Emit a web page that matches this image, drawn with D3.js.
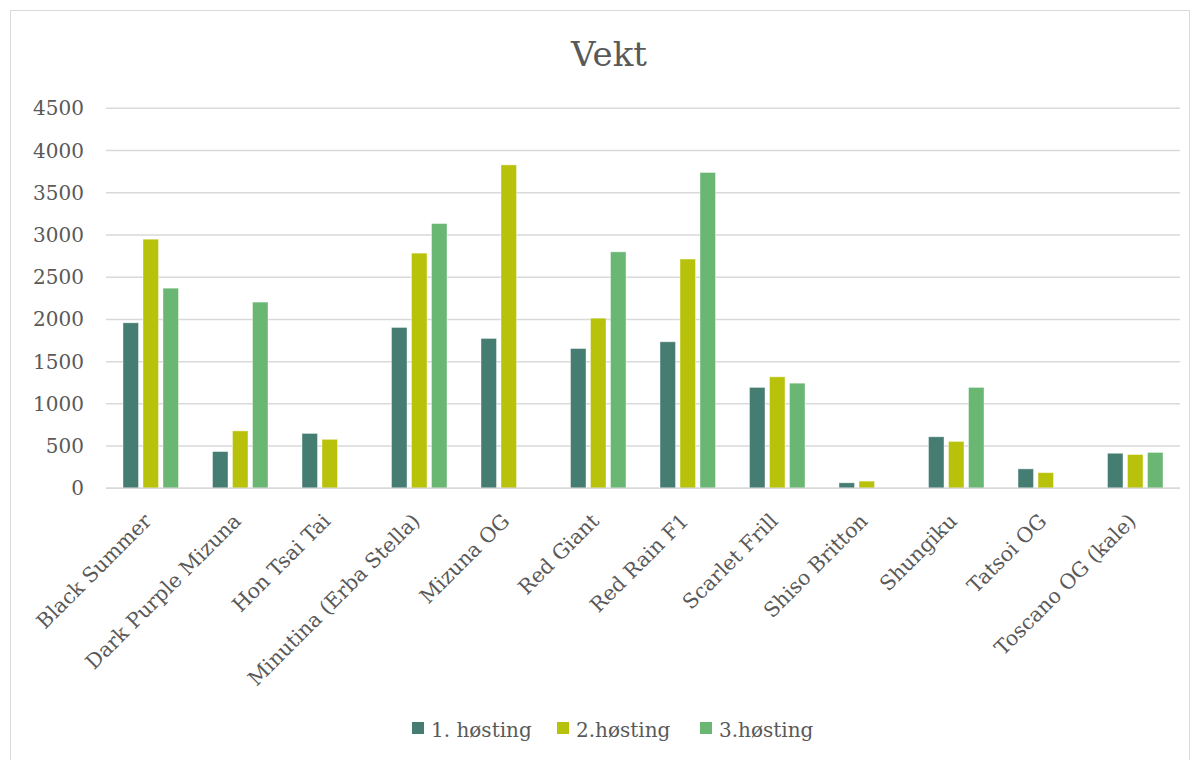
<!DOCTYPE html>
<html><head><meta charset="utf-8">
<script src="https://cdn.jsdelivr.net/npm/d3@7"></script>
<style>
body{margin:0;background:#fff;}
svg text{font-family:"DejaVu Serif",serif;fill:#595959;}
</style></head>
<body><svg id="c" width="1195" height="760"></svg>
<script>
const categories = ["Black Summer","Dark Purple Mizuna","Hon Tsai Tai","Minutina (Erba Stella)","Mizuna OG","Red Giant","Red Rain F1","Scarlet Frill","Shiso Britton","Shungiku","Tatsoi OG","Toscano OG (kale)"];
const seriesNames = ["1. høsting","2.høsting","3.høsting"];
const harvest1 = [1960, 435, 650, 1905, 1775, 1655, 1735, 1195, 65, 610, 230, 415];
const harvest2 = [2950, 680, 580, 2785, 3830, 2015, 2715, 1320, 85, 555, 185, 400];
const harvest3 = [2370, 2205, null, 3135, null, 2800, 3740, 1245, null, 1195, null, 425];
const yTicks = [0,500,1000,1500,2000,2500,3000,3500,4000,4500];
const colors = ["#467d73","#b9c20a","#6ab673"];

const svg = d3.select("#c");
svg.append("rect").attr("x",10.5).attr("y",10.5).attr("width",1179).attr("height",760)
  .attr("fill","#fff").attr("stroke","#d9d9d9").attr("stroke-width",1);

const pLeft=106, pRight=1180, pTop=108.3, pBottom=488.3;
const x = d3.scaleBand().domain(categories).range([pLeft,pRight]).paddingInner(0).paddingOuter(0);
const y = d3.scaleLinear().domain([0,4500]).range([pBottom,pTop]);
const series = [harvest1,harvest2,harvest3];
const bw = 15.5, gap = 4.5;
const xs = d3.scaleBand().domain([0,1,2]).range([-(3*bw+2*gap)/2,(3*bw+2*gap)/2]).paddingInner(gap/(bw+gap));

// gridlines
svg.append("g").selectAll("line").data(yTicks).join("line")
  .attr("x1",pLeft).attr("x2",pRight)
  .attr("y1",d=>y(d)).attr("y2",d=>y(d))
  .attr("stroke","#d9d9d9").attr("stroke-width",1.5);

// y labels
svg.append("g").selectAll("text").data(yTicks).join("text")
  .attr("x",84).attr("y",d=>y(d)).attr("dy","0.35em")
  .attr("text-anchor","end").attr("font-size",20).text(d=>d);

// bars
series.forEach((s,i)=>{
  svg.append("g").selectAll("rect").data(categories.map((c,j)=>({c,v:s[j]})).filter(d=>d.v!=null))
   .join("rect")
   .attr("x",d=>x(d.c)+x.bandwidth()/2+xs(i))
   .attr("width",xs.bandwidth())
   .attr("y",d=>y(d.v))
   .attr("height",d=>pBottom-y(d.v))
   .attr("fill",colors[i]).attr("stroke","#ffffff").attr("stroke-opacity",0.5).attr("stroke-width",0.8);
});

// baseline
svg.append("line").attr("x1",pLeft).attr("x2",pRight).attr("y1",pBottom).attr("y2",pBottom)
  .attr("stroke","#d9d9d9").attr("stroke-width",1.5);

// x labels
svg.append("g").selectAll("text").data(categories).join("text")
  .attr("transform",d=>`translate(${x(d)+x.bandwidth()/2+2},${pBottom+34}) rotate(-45)`)
  .attr("text-anchor","end").attr("font-size",20.5).text(d=>d);

// title
svg.append("text").attr("x",609).attr("y",66).attr("text-anchor","middle")
  .attr("font-size",34).text("Vekt");

// legend
const legX = [412,557,700];
seriesNames.forEach((n,i)=>{
  svg.append("rect").attr("x",legX[i]).attr("y",722).attr("width",12).attr("height",12).attr("fill",colors[i]);
  svg.append("text").attr("x",legX[i]+19).attr("y",737).attr("font-size",20).text(n);
});
</script></body></html>
